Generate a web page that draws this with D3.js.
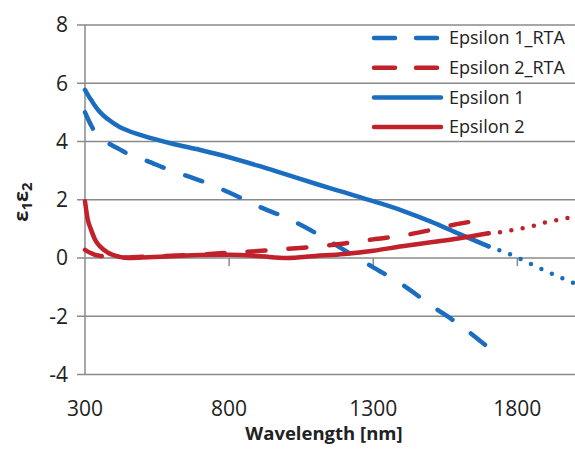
<!DOCTYPE html>
<html>
<head>
<meta charset="utf-8">
<script src="https://cdn.jsdelivr.net/npm/d3@7"></script>
<style>
  html, body { margin: 0; padding: 0; background: #fff; }
  svg { display: block; font-family: "Open Sans", "Liberation Sans", sans-serif; }
  .tick-label { font-size: 21px; fill: #222; }
</style>
</head>
<body>
<div id="chart"></div>
<script>
// Dielectric function eps1 / eps2 vs wavelength, measured vs RTA model.

const wavelength = [300, 310, 320, 335, 350, 380, 420, 450, 500, 600, 700, 800, 900, 1000, 1100, 1200, 1300, 1400, 1500, 1600, 1700];
const eps1RTA = [5.0, 4.78, 4.58, 4.32, 4.18, 3.95, 3.73, 3.57, 3.39, 3.0, 2.66, 2.25, 1.78, 1.37, 0.86, 0.27, -0.32, -0.91, -1.62, -2.30, -3.08];
const eps2RTA = [0.28, 0.22, 0.17, 0.11, 0.08, 0.04, 0.02, 0.02, 0.04, 0.08, 0.12, 0.18, 0.24, 0.31, 0.39, 0.5, 0.64, 0.77, 0.96, 1.18, 1.33];
const eps1 = [5.77, 5.6, 5.45, 5.22, 5.03, 4.76, 4.5, 4.37, 4.2, 3.93, 3.71, 3.46, 3.17, 2.86, 2.55, 2.25, 1.95, 1.63, 1.25, 0.82, 0.40];
const eps2 = [1.95, 1.3, 1.0, 0.63, 0.42, 0.18, 0.04, 0.0, 0.02, 0.06, 0.1, 0.11, 0.07, 0.0, 0.07, 0.14, 0.25, 0.4, 0.54, 0.68, 0.85];

// dotted extrapolation beyond the measured range
const wavelengthExt = [1700, 1750, 1800, 1850, 1900, 1950, 2000];
const eps1Ext = [0.40, 0.22, 0.02, -0.22, -0.45, -0.67, -0.88];
const eps2Ext = [0.85, 0.90, 0.99, 1.09, 1.23, 1.32, 1.44];

const xTicks = [300, 800, 1300, 1800];
const yTicks = [-4, -2, 0, 2, 4, 6, 8];
const legendNames = ["Epsilon 1_RTA", "Epsilon 2_RTA", "Epsilon 1", "Epsilon 2"];

const W = 575, H = 458;
const BLUE = "#1b6ebf", RED = "#c1212b", GRID = "#8a8a8a";

const svg = d3.select("#chart").append("svg").attr("width", W).attr("height", H);

const x = d3.scaleLinear().domain([300, 2000]).range([85, 575]);
const y = d3.scaleLinear().domain([-4, 8]).range([374.5, 25]);

// --- grid + axes ---
svg.append("g").selectAll("line").data(yTicks).enter().append("line")
  .attr("x1", 77).attr("x2", 575)
  .attr("y1", d => y(d)).attr("y2", d => y(d))
  .attr("stroke", GRID).attr("stroke-width", 1.5);

svg.append("line")
  .attr("x1", x(300)).attr("x2", x(300)).attr("y1", y(8)).attr("y2", y(-4))
  .attr("stroke", GRID).attr("stroke-width", 1.5);

svg.append("g").selectAll("line").data(xTicks.slice(1)).enter().append("line")
  .attr("x1", d => x(d)).attr("x2", d => x(d))
  .attr("y1", y(0)).attr("y2", y(0) + 8)
  .attr("stroke", GRID).attr("stroke-width", 1.5);

svg.append("g").selectAll("text").data(yTicks).enter().append("text")
  .attr("class", "tick-label")
  .attr("x", 68).attr("y", d => y(d)).attr("dy", "0.35em")
  .attr("text-anchor", "end").text(d => d);

svg.append("g").selectAll("text").data(xTicks).enter().append("text")
  .attr("class", "tick-label")
  .attr("x", d => x(d)).attr("y", 409).attr("dy", "0.35em")
  .attr("text-anchor", "middle").text(d => d);

svg.append("text")
  .attr("x", 324).attr("y", 440)
  .attr("text-anchor", "middle")
  .attr("font-size", 18.5).attr("font-weight", "bold").attr("fill", "#222")
  .text("Wavelength [nm]");

const yl = svg.append("text")
  .attr("transform", "translate(28,202) rotate(-90)")
  .attr("text-anchor", "middle")
  .attr("font-size", 20).attr("font-weight", "bold").attr("fill", "#222");
yl.append("tspan").text("ε");
yl.append("tspan").attr("dy", 4).attr("font-size", 15).text("1");
yl.append("tspan").attr("dy", -4).text("ε");
yl.append("tspan").attr("dy", 4).attr("font-size", 15).text("2");

// --- series ---
const line = d3.line().x(d => x(d[0])).y(d => y(d[1])).curve(d3.curveMonotoneX);
const zip = (xs, ys) => xs.map((v, i) => [v, ys[i]]);

const DASH = "18 23", DOT = "0 11.5";
const series = [
  { pts: zip(wavelength, eps1RTA), color: BLUE, dash: DASH },
  { pts: zip(wavelength, eps2RTA), color: RED, dash: DASH },
  { pts: zip(wavelength, eps1), color: BLUE, dash: null },
  { pts: zip(wavelength, eps2), color: RED, dash: null },
  { pts: zip(wavelengthExt, eps1Ext), color: BLUE, dash: DOT },
  { pts: zip(wavelengthExt, eps2Ext), color: RED, dash: DOT }
];

series.forEach(s => {
  svg.append("path").datum(s.pts)
    .attr("fill", "none").attr("stroke", s.color)
    .attr("stroke-width", 4.5).attr("stroke-linecap", "round")
    .attr("stroke-dasharray", s.dash)
    .attr("d", line);
});

// --- legend ---
const leg = svg.append("g");
legendNames.forEach((name, i) => {
  const ly = 38 + i * 29.7;
  const s = series[i];
  leg.append("line")
    .attr("x1", 374).attr("x2", 441).attr("y1", ly).attr("y2", ly)
    .attr("stroke", s.color).attr("stroke-width", 4.5).attr("stroke-linecap", "round")
    .attr("stroke-dasharray", s.dash ? "21 21" : null);
  leg.append("text")
    .attr("x", 449).attr("y", ly).attr("dy", "0.35em")
    .attr("font-size", 18).attr("fill", "#222").text(name);
});
</script>
</body>
</html>
